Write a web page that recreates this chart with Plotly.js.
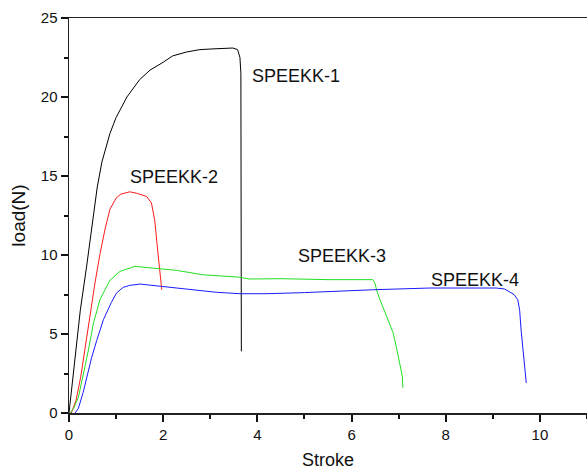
<!DOCTYPE html>
<html>
<head>
<meta charset="utf-8">
<script src="https://cdn.plot.ly/plotly-3.0.1.min.js"></script>
<style>html,body{margin:0;padding:0;background:#fff;}#chart{width:587px;height:472px;}</style>
</head>
<body>
<div id="chart"></div>
<script>
// SPEEKK-1 (black)
const s1x = [0, 0.05, 0.12, 0.24, 0.375, 0.5, 0.6, 0.7, 0.87, 1.0, 1.23, 1.5, 1.72, 2.0, 2.2, 2.5, 2.78, 3.1, 3.48, 3.58, 3.63, 3.65, 3.66];
const s1y = [0, 1.4, 3.3, 6.5, 9.3, 12.0, 14.3, 15.9, 17.7, 18.7, 20.0, 21.1, 21.7, 22.2, 22.6, 22.85, 23.0, 23.05, 23.1, 23.0, 22.5, 21.5, 3.9];
// SPEEKK-2 (red)
const s2x = [0.05, 0.15, 0.25, 0.35, 0.45, 0.55, 0.66, 0.77, 0.87, 1.0, 1.1, 1.29, 1.45, 1.65, 1.75, 1.82, 1.89, 1.95, 1.97];
const s2y = [0, 0.8, 2.3, 4.3, 6.3, 8.2, 10.1, 11.7, 12.9, 13.6, 13.85, 14.0, 13.9, 13.7, 13.3, 12.2, 10.1, 8.0, 7.8];
// SPEEKK-3 (green)
const s3x = [0.02, 0.1, 0.2, 0.3, 0.4, 0.52, 0.66, 0.87, 1.08, 1.4, 1.93, 2.28, 2.84, 3.41, 3.6, 3.84, 4.5, 5.5, 6.3, 6.45, 6.5, 6.53, 6.6, 6.74, 6.88, 6.95, 7.02, 7.08, 7.09];
const s3y = [0, 0.3, 1.0, 2.3, 3.8, 5.7, 7.2, 8.4, 8.96, 9.28, 9.13, 9.03, 8.75, 8.65, 8.6, 8.48, 8.5, 8.44, 8.45, 8.44, 8.2, 7.8, 7.2, 6.1, 5.1, 4.2, 3.2, 2.3, 1.6];
// SPEEKK-4 (blue)
const s4x = [0.13, 0.2, 0.3, 0.375, 0.48, 0.59, 0.73, 0.9, 1.01, 1.15, 1.29, 1.51, 1.97, 2.57, 3.13, 3.63, 4.2, 5.0, 5.54, 6.45, 7.66, 8.5, 9.07, 9.25, 9.35, 9.45, 9.53, 9.57, 9.6, 9.65, 9.71, 9.71];
const s4y = [0, 0.3, 1.3, 2.3, 3.5, 4.6, 5.9, 7.0, 7.6, 7.95, 8.08, 8.16, 8.01, 7.8, 7.64, 7.55, 7.55, 7.62, 7.7, 7.8, 7.91, 7.92, 7.91, 7.85, 7.7, 7.5, 7.17, 6.5, 5.27, 3.8, 2.3, 1.9];

const labelText = ["SPEEKK-1", "SPEEKK-2", "SPEEKK-3", "SPEEKK-4"];
const labelX = [3.84, 1.25, 4.81, 7.64];
const labelY = [21.3, 14.94, 9.91, 8.39];

const xTickVals = [0, 2, 4, 6, 8, 10];
const xMinorVals = [1, 3, 5, 7, 9, 11];
const yTickVals = [0, 5, 10, 15, 20, 25];
const yMinorVals = [2.5, 7.5, 12.5, 17.5, 22.5];

const series = [[s1x, s1y, "#000000"], [s2x, s2y, "#ff1a1a"], [s3x, s3y, "#22e022"], [s4x, s4y, "#1a1aff"]];
const traces = series.map((s, i) => ({
  x: s[0], y: s[1], type: "scatter", mode: "lines",
  line: {color: s[2], width: 1}, name: labelText[i], hoverinfo: "skip"
}));

const annotations = labelText.map((t, i) => ({
  text: t, x: labelX[i], y: labelY[i], xref: "x", yref: "y",
  xanchor: "left", yanchor: "middle", showarrow: false,
  font: {family: "Liberation Sans, Arial, sans-serif", size: 18, color: "#111"}
}));

const tickColor = "#111";
const layout = {
  width: 587, height: 472,
  margin: {l: 69, r: 0, t: 18, b: 59},
  paper_bgcolor: "#fff", plot_bgcolor: "#fff",
  showlegend: false,
  font: {family: "Liberation Sans, Arial, sans-serif", color: "#111"},
  xaxis: {
    range: [0, 11], tickmode: "array", tickvals: xTickVals, ticktext: xTickVals.map(String),
    ticks: "outside", ticklen: 7, tickwidth: 2, tickcolor: tickColor,
    showline: true, linecolor: "#222", linewidth: 1.5, mirror: true,
    showgrid: false, zeroline: false,
    tickfont: {size: 15},
    minor: {tickmode: "array", tickvals: xMinorVals, ticks: "outside", ticklen: 4, tickwidth: 2, tickcolor: tickColor, showgrid: false},
    title: {text: "Stroke", font: {size: 18}, standoff: 12}
  },
  yaxis: {
    range: [0, 25], tickmode: "array", tickvals: yTickVals, ticktext: yTickVals.map(String),
    ticks: "outside", ticklen: 7, tickwidth: 2, tickcolor: tickColor,
    showline: true, linecolor: "#222", linewidth: 1.5, mirror: false,
    showgrid: false, zeroline: false,
    tickfont: {size: 15},
    minor: {tickmode: "array", tickvals: yMinorVals, ticks: "outside", ticklen: 4, tickwidth: 2, tickcolor: tickColor, showgrid: false},
    title: {text: "load(N)", font: {size: 19}, standoff: 10}
  },
  annotations: annotations
};

Plotly.newPlot("chart", traces, layout, {staticPlot: true, displayModeBar: false});
</script>
</body>
</html>
